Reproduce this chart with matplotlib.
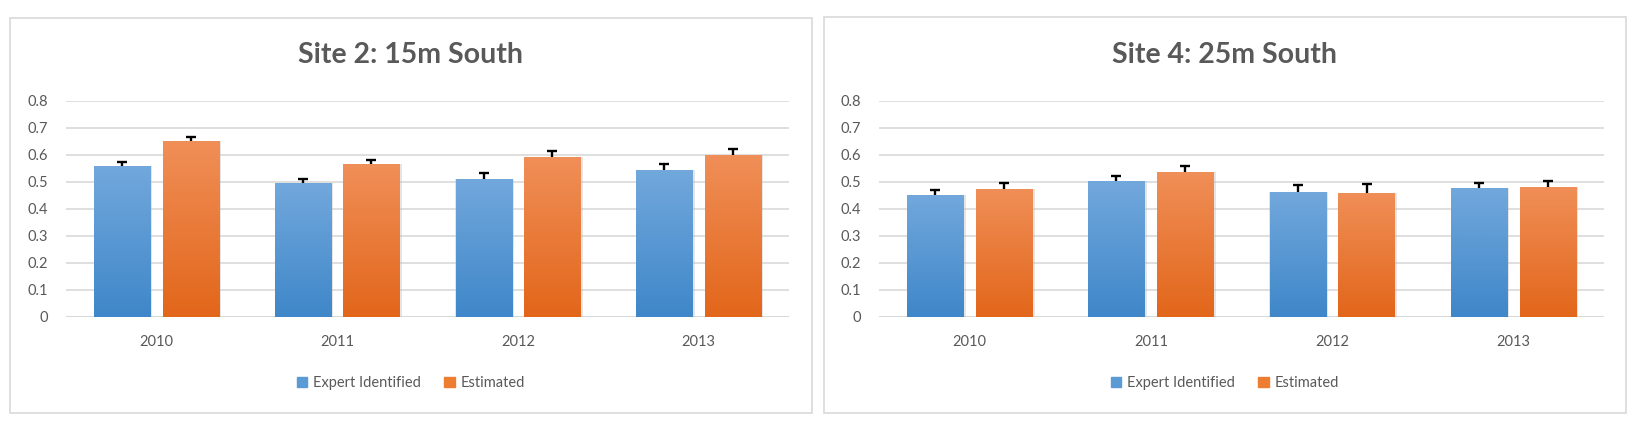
import matplotlib
matplotlib.use("Agg")
import matplotlib.pyplot as plt
import matplotlib.patches as mpatches
import numpy as np

plt.rcParams['font.family'] = ['Lato', 'DejaVu Sans']

years = ['2010', '2011', '2012', '2013']
titles = ['Site 2: 15m South', 'Site 4: 25m South']
series_names = ['Expert Identified', 'Estimated']

# site 2
s2_expert = [0.559, 0.497, 0.511, 0.544]
s2_expert_err = [0.016, 0.014, 0.022, 0.022]
s2_est = [0.650, 0.565, 0.591, 0.598]
s2_est_err = [0.017, 0.017, 0.024, 0.025]
# site 4
s4_expert = [0.453, 0.503, 0.463, 0.478]
s4_expert_err = [0.018, 0.018, 0.027, 0.018]
s4_est = [0.474, 0.535, 0.460, 0.481]
s4_est_err = [0.020, 0.023, 0.032, 0.021]

yticks = [0, 0.1, 0.2, 0.3, 0.4, 0.5, 0.6, 0.7, 0.8]

blue_top, blue_bot = '#72a8dc', '#3f87c9'
orng_top, orng_bot = '#f08f58', '#e2661a'
txt = '#595959'


def grad_cmap(top, bot):
    from matplotlib.colors import LinearSegmentedColormap
    return LinearSegmentedColormap.from_list('g', [bot, top])


def draw_panel(ax, vals_a, err_a, vals_b, err_b):
    x = np.arange(len(years))
    off, w = 0.19, 0.31
    for vals, err, dx, (top, bot) in [(vals_a, err_a, -off, (blue_top, blue_bot)),
                                      (vals_b, err_b, off, (orng_top, orng_bot))]:
        # soft shadow
        ax.bar(x + dx + 0.006, vals, w + 0.014, color='#bfbfbf', alpha=0.4, zorder=2)
        bars = ax.bar(x + dx, vals, w, color=bot, zorder=3)
        cm = grad_cmap(top, bot)
        for b in bars:
            g = np.linspace(0, 1, 256).reshape(-1, 1)
            im = ax.imshow(g, cmap=cm, origin='lower', aspect='auto', zorder=3.5,
                           extent=[b.get_x(), b.get_x() + b.get_width(), 0, b.get_height()])
            im.set_clip_path(b)
        # one-sided (upper) error bars
        eb = ax.errorbar(x + dx, vals, yerr=[np.zeros(len(vals)), err], fmt='none',
                         ecolor='black', elinewidth=1.7, capsize=3.6, capthick=1.7, zorder=5)
        eb[1][0].set_visible(False)
    ax.set_xlim(-0.5, len(years) - 0.5)
    ax.set_ylim(0, 0.8)
    ax.set_yticks(yticks)
    ax.set_yticklabels(['0' if t == 0 else f'{t:.1f}' for t in yticks])
    ax.set_xticks(x)
    ax.set_xticklabels(years)
    ax.tick_params(length=0, labelsize=10.5, labelcolor=txt)
    ax.tick_params(axis='y', pad=13)
    ax.tick_params(axis='x', pad=13)
    ax.yaxis.grid(True, color='#d9d9d9', lw=1.2)
    ax.set_axisbelow(True)
    for s in ax.spines.values():
        s.set_visible(False)
    ax.axhline(0, color='#d9d9d9', lw=1.5, zorder=1)


fig = plt.figure(figsize=(16.4, 4.32), dpi=100)

frames = [(10.5, 18, 812, 413), (824, 17, 1626, 413)]
for (x0, y0, x1, y1) in frames:
    fig.patches.append(mpatches.Rectangle((x0 / 1640, 1 - y1 / 432), (x1 - x0) / 1640, (y1 - y0) / 432,
                                          transform=fig.transFigure, fill=False,
                                          edgecolor='#d9d9d9', lw=1.2))

ax1 = fig.add_axes([66 / 1640, 1 - 317 / 432, 723 / 1640, 216.3 / 432])
ax2 = fig.add_axes([879 / 1640, 1 - 317 / 432, 725 / 1640, 216.3 / 432])

draw_panel(ax1, s2_expert, s2_expert_err, s2_est, s2_est_err)
draw_panel(ax2, s4_expert, s4_expert_err, s4_est, s4_est_err)

for ax, title, cx in [(ax1, titles[0], 411), (ax2, titles[1], 1225)]:
    fig.text(cx / 1640, 1 - 55 / 432, title, ha='center', va='center',
             fontsize=20.5, fontweight='bold', color=txt)
    handles = [mpatches.Patch(color='#5b9bd5'), mpatches.Patch(color='#ed7d31')]
    fig.legend(handles, series_names, loc='center', bbox_to_anchor=(cx / 1640, 1 - 383 / 432),
               ncol=2, frameon=False, fontsize=10.5, labelcolor=txt,
               handlelength=0.7, handleheight=0.7, handletextpad=0.4, columnspacing=1.6)

fig.savefig('out.png', dpi=100)
